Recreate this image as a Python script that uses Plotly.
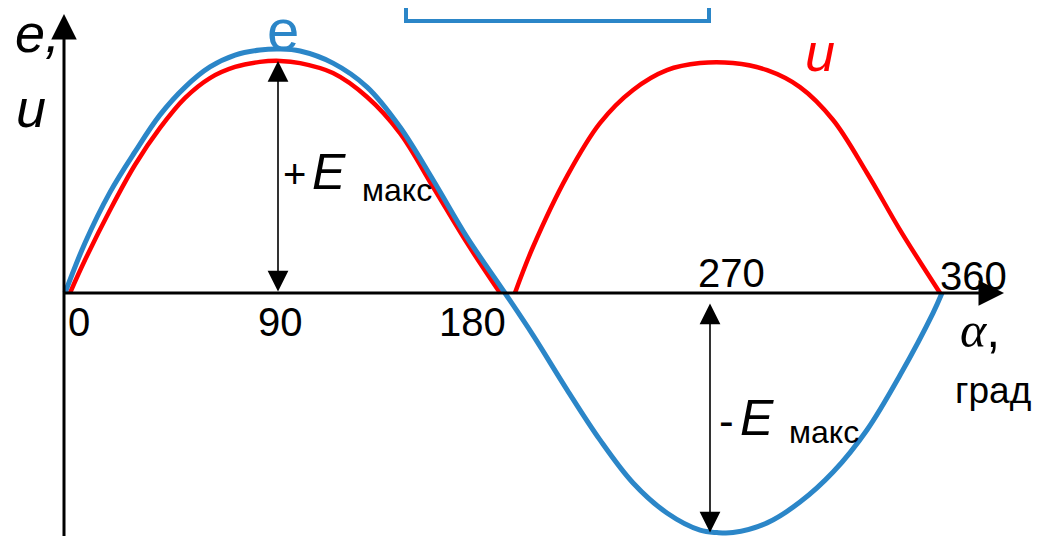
import plotly.graph_objects as go

# ---- data (angle in degrees, value in units of E_max) ----
e_angles = [0, 8.2, 18.5, 28.7, 39.0, 49.3, 59.5, 69.8, 80.0, 88.3, 96.5, 110.0, 124.0, 137.5,
            151.1, 165.0, 180.6, 192.1, 206.1, 219.6, 233.2, 247.1, 260.7, 267.6, 274.2, 288.2,
            301.7, 315.3, 329.2, 342.8, 356.3, 360]
e_vals = [0, 0.207, 0.417, 0.583, 0.736, 0.851, 0.934, 0.983, 1.004, 1.008, 1.0, 0.95, 0.851, 0.686,
          0.467, 0.231, 0, -0.174, -0.40, -0.607, -0.785, -0.909, -0.98, -0.99, -0.99, -0.95,
          -0.864, -0.74, -0.566, -0.339, -0.083, 0]
u1_angles = [2.05, 8.2, 18.5, 28.7, 39.0, 49.3, 59.5, 69.8, 80.0, 88.3, 96.5, 110.0, 124.0, 137.5,
             151.1, 165.0, 178.6]
u1_vals = [0, 0.136, 0.343, 0.529, 0.682, 0.806, 0.888, 0.934, 0.955, 0.959, 0.95, 0.909, 0.81, 0.661,
           0.438, 0.207, 0]
u2_angles = [184.7, 192.1, 206.1, 219.6, 233.2, 247.1, 260.7, 274.2, 288.2, 301.7, 315.3, 329.2,
             342.8, 359.2]
u2_vals = [0, 0.19, 0.483, 0.702, 0.839, 0.921, 0.95, 0.95, 0.921, 0.851, 0.715, 0.496, 0.26, 0]
tick_vals = [0, 90, 180, 270, 360]
tick_text = ["0", "90", "180", "270", "360"]
e_max = 0.99
u_max = 0.959

BLUE = "#2b86c8"
RED = "#ff0000"
FONT = "Liberation Sans"

W, H = 1040, 536
OFF = 8  # page body margin offset
X0PX, X360PX = 65 - OFF, 942 - OFF
SX = (X360PX - X0PX) / 360.0
Y0PX, SY = 293 - OFF, 242.0
xr = [-X0PX / SX, (W - X0PX) / SX]
yr = [-(H - Y0PX) / SY, Y0PX / SY]


def px2x(p):
    return (p - OFF - X0PX) / SX


def py2y(p):
    return (Y0PX - (p - OFF)) / SY


fig = go.Figure()
for xa, ya in ((u1_angles, u1_vals), (u2_angles, u2_vals)):
    fig.add_trace(go.Scatter(x=xa, y=ya, mode="lines",
                             line=dict(color=RED, width=4.5, shape="spline", smoothing=1.0),
                             hoverinfo="skip", showlegend=False))
fig.add_trace(go.Scatter(x=e_angles, y=e_vals, mode="lines",
                         line=dict(color=BLUE, width=5, shape="spline", smoothing=1.0),
                         hoverinfo="skip", showlegend=False))

ann = []


def arrow(x, y, ax, ay, width, size, both=False):
    ann.append(dict(x=x, y=y, ax=ax, ay=ay, xref="x", yref="y", axref="x", ayref="y",
                    text="", showarrow=True, arrowhead=2, arrowsize=size,
                    arrowwidth=width, arrowcolor="black",
                    arrowside="end+start" if both else "end",
                    startarrowhead=2, startarrowsize=size, standoff=0, startstandoff=0))


# axes
arrow(px2x(64), py2y(14), px2x(64), py2y(545), 3, 1.7)
arrow(px2x(1004), 0, px2x(62), 0, 3, 1.7)
# amplitude arrows
arrow(px2x(278), u_max, px2x(278), 0, 1.6, 2.6, both=True)
arrow(px2x(710), -e_max, px2x(710), py2y(302), 1.6, 2.6, both=True)


def text(px, py, t, size, color="black", xanchor="left", yanchor="middle", family=FONT):
    ann.append(dict(x=(px - OFF) / W, y=1 - (py - OFF) / H, xref="paper", yref="paper", text=t,
                    showarrow=False, xanchor=xanchor, yanchor=yanchor,
                    font=dict(family=family, size=size, color=color)))


# tick labels
tick_pos = [(79, 322), (280, 322), (472, 322), (731, 273), (973, 276)]
for (px, py), lab in zip(tick_pos, tick_text):
    text(px, py, lab, 40, xanchor="center")

# axis titles
text(37, 33, "<i>e,</i>", 54, xanchor="center")
text(31, 108, "<i>u</i>", 54, xanchor="center")
text(980, 330, "<span style='font-family:Liberation Serif'><i>α</i></span>,", 50, xanchor="center")
text(993, 390, "град", 37, xanchor="center")

# curve labels
text(283, 30, "e", 58, color=BLUE, xanchor="center")
text(820, 52, "<i>u</i>", 54, color=RED, xanchor="center")

# amplitude labels
text(281, 174, "+", 40)
text(310, 172, "<i>E</i>", 50)
text(360, 190, "макс", 32)
text(717, 420, "-", 44)
text(738, 418, "<i>E</i>", 50)
text(787, 432, "макс", 32)

fig.update_layout(
    width=W, height=H, margin=dict(l=0, r=0, t=0, b=0),
    paper_bgcolor="white", plot_bgcolor="white",
    xaxis=dict(range=xr, visible=False, fixedrange=True),
    yaxis=dict(range=yr, visible=False, fixedrange=True),
    annotations=ann,
    shapes=[dict(type="rect", xref="paper", yref="paper",
                 x0=(406 - OFF) / W, x1=(709 - OFF) / W, y0=1 - (21 - OFF) / H, y1=1.05,
                 line=dict(color=BLUE, width=4), fillcolor="rgba(0,0,0,0)")],
)

fig.write_html("out.html")
